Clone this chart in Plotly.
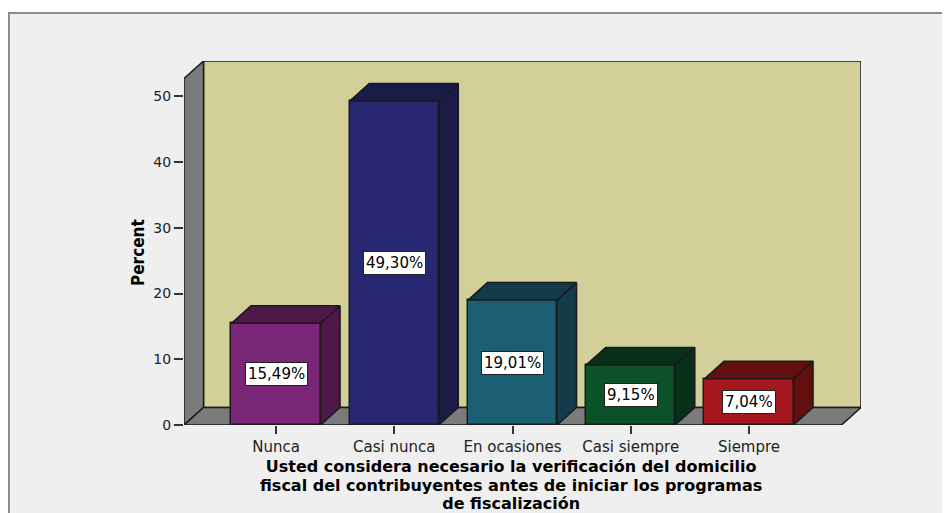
import plotly.graph_objects as go

categories = ["Nunca", "Casi nunca", "En ocasiones", "Casi siempre", "Siempre"]
percent = [15.49, 49.30, 19.01, 9.15, 7.04]
labels = ["15,49%", "49,30%", "19,01%", "9,15%", "7,04%"]
front_colors = ["#7B2779", "#282872", "#1C5E74", "#0B5229", "#A5171C"]
side_colors = ["#4E1848", "#1B1B48", "#133C4A", "#06301A", "#620F10"]
y_ticks = [0, 10, 20, 30, 40, 50]
x_title_lines = [
    "Usted considera necesario la verificación del domicilio",
    "fiscal del contribuyentes antes de iniciar los programas",
    "de fiscalización",
]

OFF = 8  # page body margin
W, H = 950 - OFF, 513 - OFF
L = 184 - OFF
T = 61 - OFF
R = W - (860.7 - OFF)
B = H - (425 - OFF)
XMIN, XMAX = -0.778, 4.947
YMAX = 55.4
DX = 0.165   # depth in x units
DY = 2.66    # depth in y units
BW = 0.753
EDGE = "#1a1a1a"

pw = W - L - R
ph = H - T - B


def px2paper_x(px):
    # px given in reference-window pixels
    return (px - OFF - L) / pw


def px2paper_y(py):
    return (H - B - (py - OFF)) / ph


fig = go.Figure()

shapes = []
# outer frame
shapes.append(dict(type="rect", xref="paper", yref="paper",
                   x0=px2paper_x(9), x1=px2paper_x(1000),
                   y0=px2paper_y(600), y1=px2paper_y(13),
                   fillcolor="#EFEFEF", line=dict(color="#8a8a8a", width=2),
                   layer="below"))
# back wall
shapes.append(dict(type="rect", xref="x", yref="y",
                   x0=XMIN + DX, x1=XMAX, y0=DY, y1=YMAX,
                   fillcolor="#D3CF98", line=dict(color=EDGE, width=1.5),
                   layer="below"))
# left wall
shapes.append(dict(type="path", xref="x", yref="y",
                   path=f"M {XMIN},0 L {XMIN + DX},{DY} L {XMIN + DX},{YMAX} L {XMIN},{YMAX - DY} Z",
                   fillcolor="#7B7B7B", line=dict(color=EDGE, width=1.5),
                   layer="below"))
# floor
shapes.append(dict(type="path", xref="x", yref="y",
                   path=f"M {XMIN},0 L {XMAX - DX},0 L {XMAX},{DY} L {XMIN + DX},{DY} Z",
                   fillcolor="#7B7B7B", line=dict(color=EDGE, width=1.5),
                   layer="below"))

xs = list(range(len(categories)))

fig.add_trace(go.Bar(
    x=xs, y=percent, width=BW,
    marker=dict(color=front_colors, line=dict(color=EDGE, width=1.5)),
    hoverinfo="skip", showlegend=False,
))

# 3D side and top faces computed from the data values
for i, v in enumerate(percent):
    x0 = i - BW / 2
    x1 = i + BW / 2
    fig.add_trace(go.Scatter(
        x=[x1, x1 + DX, x1 + DX, x1, x1],
        y=[0, DY, v + DY, v, 0],
        mode="lines", fill="toself", fillcolor=side_colors[i],
        line=dict(color=EDGE, width=1.5), hoverinfo="skip", showlegend=False,
    ))
    fig.add_trace(go.Scatter(
        x=[x0, x1, x1 + DX, x0 + DX, x0],
        y=[v, v, v + DY, v + DY, v],
        mode="lines", fill="toself", fillcolor=side_colors[i],
        line=dict(color=EDGE, width=1.5), hoverinfo="skip", showlegend=False,
    ))

annotations = []
for i, v in enumerate(percent):
    annotations.append(dict(
        x=i, y=v / 2, xref="x", yref="y", text=labels[i], showarrow=False,
        font=dict(family="DejaVu Sans", size=15, color="black"),
        bgcolor="white", bordercolor="#222222", borderwidth=1, borderpad=2,
    ))

annotations.append(dict(
    x=px2paper_x(126), y=px2paper_y(252), xref="paper", yref="paper",
    text="<b>Percent</b>", textangle=-90, showarrow=False,
    font=dict(family="Liberation Sans Narrow, DejaVu Sans Condensed, Liberation Sans",
              size=17, color="black"),
))

title_text = "<br>".join(
    f"<span style='font-size:16px'><b>{line}</b></span>" for line in x_title_lines
)
annotations.append(dict(
    x=px2paper_x(511), y=px2paper_y(485), xref="paper", yref="paper",
    text=title_text, showarrow=False, xanchor="center", yanchor="middle",
    font=dict(family="DejaVu Sans", size=14.4, color="black"),
))

fig.update_layout(
    width=W, height=H,
    margin=dict(l=L, r=R, t=T, b=B, pad=0),
    paper_bgcolor="white",
    plot_bgcolor="rgba(0,0,0,0)",
    shapes=shapes,
    annotations=annotations,
    bargap=0,
    xaxis=dict(
        range=[XMIN, XMAX], tickvals=xs, ticktext=categories,
        ticks="outside", ticklen=8, tickwidth=1.5, tickcolor="#333333",
        showgrid=False, zeroline=False, showline=False,
        tickfont=dict(family="DejaVu Sans", size=15, color="#222222"),
        fixedrange=True,
    ),
    yaxis=dict(
        range=[0, YMAX], tickvals=y_ticks,
        ticks="outside", ticklen=9, tickwidth=1.5, tickcolor="#333333",
        showgrid=False, zeroline=False, showline=False,
        tickfont=dict(family="DejaVu Sans", size=14, color="#222222"),
        fixedrange=True,
    ),
)

fig.write_html("out.html")
